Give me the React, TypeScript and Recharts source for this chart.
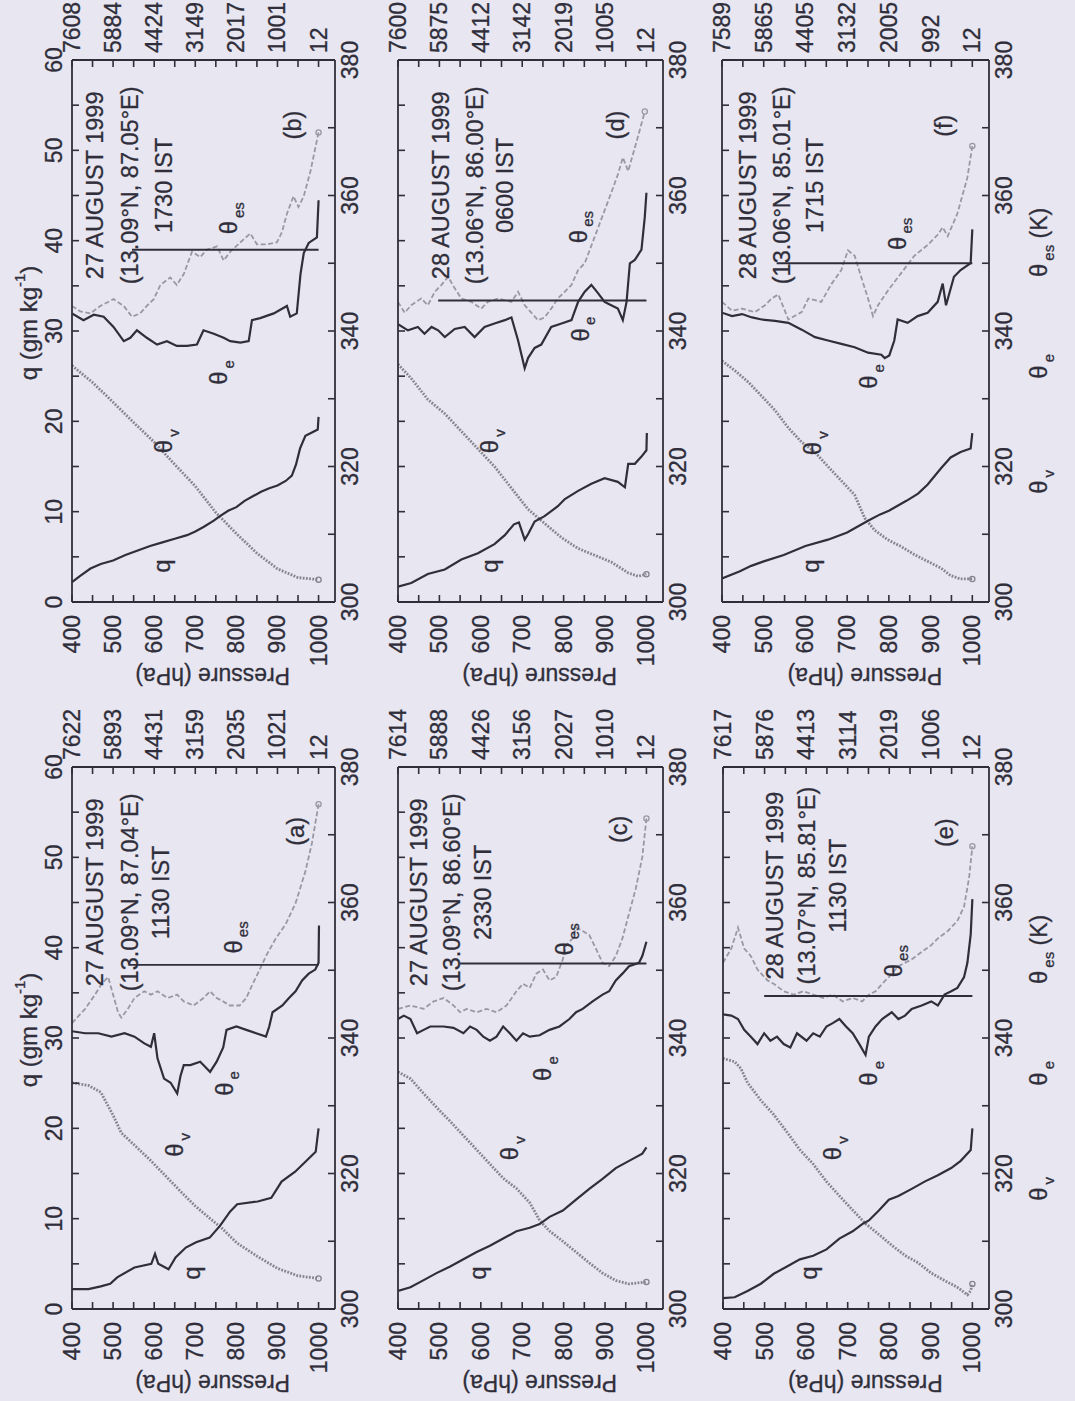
import React from 'react';
import { LineChart, Line, XAxis, YAxis } from 'recharts';

type Pair = [number, number];

const INK = '#2f2e3a';
const GREY_V = '#85838f';
const GREY_S = '#9a98a5';
const BG = '#e8e6f1';
const FONT = '"Liberation Sans", Arial, Helvetica, sans-serif';

// axis ticks
const P_TICKS = [400, 450, 500, 550, 600, 650, 700, 750, 800, 850, 900, 950, 1000];
const Q_TICKS = [0, 5, 10, 15, 20, 25, 30, 35, 40, 45, 50, 55, 60];
const T_TICKS = [300, 310, 320, 330, 340, 350, 360, 370, 380];

// heights (m) printed on the top axis at 400..1000 hPa
const hA = ['7622', '5893', '4431', '3159', '2035', '1021', '12'];
const hB = ['7608', '5884', '4424', '3149', '2017', '1001', '12'];
const hC = ['7614', '5888', '4426', '3156', '2027', '1010', '12'];
const hD = ['7600', '5875', '4412', '3142', '2019', '1005', '12'];
const hE = ['7617', '5876', '4413', '3114', '2019', '1006', '12'];
const hF = ['7589', '5865', '4405', '3132', '2005', '992', '12'];

// ---- (a) 27 Aug 1130 IST ----
const qA: Pair[] = [[400, 2.2], [440, 2.2], [470, 2.5], [493, 2.8], [510, 3.5], [552, 4.6], [593, 5.0], [602, 6.1], [610, 5.0], [635, 4.4], [652, 5.7], [677, 6.8], [702, 7.4], [735, 7.9], [760, 9.2], [785, 10.8], [802, 11.6], [852, 11.9], [885, 12.3], [910, 14.1], [943, 15.2], [968, 16.3], [993, 17.4], [1000, 20.0]];
const tvA: Pair[] = [[400, 333.4], [440, 333.0], [470, 332.0], [500, 328.6], [520, 326.0], [550, 324.3], [590, 322.0], [630, 319.5], [670, 317.0], [700, 315.2], [735, 313.4], [765, 311.9], [800, 309.8], [850, 307.8], [900, 306.0], [950, 304.9], [1000, 304.5]];
const teA: Pair[] = [[400, 341.0], [432, 340.7], [464, 340.7], [496, 340.2], [528, 340.7], [552, 340.2], [576, 339.2], [592, 338.7], [600, 340.7], [608, 337.0], [624, 334.0], [640, 333.4], [656, 331.8], [664, 334.4], [672, 336.0], [688, 336.0], [712, 336.5], [728, 335.5], [736, 335.0], [752, 336.5], [768, 338.6], [776, 341.2], [800, 341.7], [824, 341.2], [848, 340.7], [872, 340.2], [880, 341.7], [888, 343.8], [912, 344.8], [928, 345.9], [944, 346.9], [960, 348.5], [976, 349.5], [992, 350.1], [1000, 351.1], [1001, 356.6]];
const tesA: Pair[] = [[400, 342.2], [432, 344.3], [456, 346.4], [472, 348.0], [488, 349.0], [500, 346.4], [512, 343.8], [520, 343.0], [536, 344.3], [552, 345.9], [576, 346.9], [592, 346.4], [608, 346.9], [632, 345.9], [656, 346.4], [672, 345.4], [696, 344.8], [720, 345.9], [736, 346.9], [752, 345.9], [768, 345.4], [784, 344.8], [808, 344.8], [824, 345.9], [840, 348.0], [856, 350.0], [872, 352.1], [896, 354.7], [920, 356.8], [944, 359.9], [968, 364.6], [984, 368.8], [1000, 374.5]];
const segA: Pair[] = [[540, 350.8], [1000, 350.8]];

// ---- (b) 27 Aug 1730 IST ----
const qB: Pair[] = [[400, 2.2], [420, 2.9], [445, 3.7], [470, 4.2], [500, 4.6], [530, 5.2], [560, 5.7], [590, 6.2], [620, 6.6], [650, 7.0], [680, 7.4], [700, 7.8], [720, 8.3], [745, 9.0], [760, 9.5], [780, 10.1], [800, 10.5], [820, 11.2], [840, 11.7], [860, 12.2], [880, 12.6], [900, 12.9], [920, 13.4], [935, 14.0], [945, 15.2], [955, 17.0], [968, 18.4], [985, 18.8], [998, 19.1], [1000, 20.5]];
const tvB: Pair[] = [[400, 334.9], [450, 332.4], [500, 329.5], [550, 326.5], [600, 323.6], [650, 320.3], [700, 317.1], [750, 313.2], [800, 310.1], [850, 307.2], [900, 304.9], [950, 303.6], [1000, 303.3]];
const teB: Pair[] = [[400, 342.6], [428, 341.6], [453, 342.4], [477, 342.1], [501, 340.6], [526, 338.5], [542, 339.0], [558, 340.1], [582, 339.0], [607, 338.0], [631, 338.5], [655, 337.8], [680, 337.8], [704, 338.0], [720, 340.1], [745, 339.6], [769, 339.0], [785, 338.5], [810, 338.3], [830, 338.5], [838, 341.6], [858, 341.9], [891, 342.6], [923, 343.7], [931, 342.1], [947, 342.6], [956, 348.4], [964, 351.5], [976, 353.0], [996, 353.8], [1000, 359.3]];
const tesB: Pair[] = [[400, 343.7], [420, 342.9], [445, 342.6], [469, 343.7], [501, 344.7], [526, 343.7], [546, 342.1], [566, 342.6], [582, 343.7], [599, 344.7], [615, 346.8], [639, 347.9], [655, 346.8], [672, 348.4], [692, 351.7], [712, 350.9], [728, 352.0], [753, 352.5], [769, 350.4], [785, 351.7], [810, 353.1], [834, 354.4], [850, 352.8], [874, 352.8], [899, 353.1], [911, 354.6], [923, 357.3], [939, 359.9], [951, 358.3], [964, 359.9], [980, 363.5], [1000, 369.3]];
const segB: Pair[] = [[546, 352.0], [1000, 352.0]];

// ---- (c) 27 Aug 2330 IST ----
const qC: Pair[] = [[400, 2.0], [430, 2.4], [462, 3.2], [494, 4.0], [526, 4.7], [558, 5.5], [590, 6.3], [622, 7.0], [654, 7.8], [686, 8.6], [718, 9.0], [742, 9.4], [766, 10.2], [798, 10.9], [830, 12.1], [862, 13.3], [894, 14.4], [926, 15.6], [958, 16.4], [990, 17.2], [1000, 17.9]];
const tvC: Pair[] = [[400, 335.0], [430, 334.0], [462, 331.8], [494, 329.7], [526, 327.7], [558, 325.6], [590, 323.5], [622, 321.4], [654, 319.3], [686, 317.8], [718, 315.7], [742, 313.1], [766, 311.5], [798, 310.0], [830, 308.4], [862, 306.8], [894, 305.3], [926, 304.2], [958, 303.7], [1000, 304.0]];
const teC: Pair[] = [[400, 342.8], [414, 343.3], [430, 342.8], [446, 340.7], [462, 341.2], [478, 341.7], [510, 341.7], [534, 341.5], [558, 340.7], [574, 341.7], [590, 341.2], [606, 340.2], [622, 339.6], [638, 340.2], [654, 341.7], [670, 340.7], [686, 339.6], [702, 340.7], [718, 340.2], [742, 340.4], [766, 341.2], [790, 341.7], [814, 342.8], [830, 343.8], [846, 344.3], [870, 345.4], [894, 346.4], [910, 346.9], [926, 348.5], [942, 349.5], [958, 350.6], [982, 351.1], [990, 352.1], [1000, 354.2]];
const tesC: Pair[] = [[400, 344.3], [430, 344.8], [462, 344.3], [486, 345.4], [510, 345.9], [534, 344.8], [550, 343.8], [566, 344.3], [590, 343.8], [614, 344.3], [638, 343.8], [662, 344.8], [686, 346.9], [702, 348.0], [718, 347.4], [734, 349.5], [750, 350.1], [766, 348.5], [782, 349.0], [798, 351.6], [806, 353.7], [822, 354.7], [830, 356.3], [846, 355.8], [862, 355.2], [878, 353.2], [894, 351.1], [910, 350.6], [926, 352.1], [942, 354.7], [958, 358.4], [974, 362.0], [990, 366.7], [1000, 372.4]];
const segC: Pair[] = [[550, 351.0], [1000, 351.0]];

// ---- (d) 28 Aug 0600 IST ----
const qD: Pair[] = [[400, 1.7], [432, 2.1], [472, 3.1], [513, 3.6], [553, 4.7], [593, 5.4], [633, 6.4], [658, 7.4], [680, 8.6], [692, 8.8], [706, 6.9], [714, 7.5], [730, 8.9], [754, 9.5], [786, 10.6], [803, 11.4], [835, 12.3], [867, 13.1], [899, 13.7], [931, 13.3], [948, 12.7], [956, 15.3], [972, 15.3], [988, 16.1], [1000, 16.8], [1001, 18.7]];
const tvD: Pair[] = [[400, 335.1], [432, 333.0], [472, 329.9], [513, 327.8], [553, 325.2], [593, 322.6], [633, 320.0], [674, 316.8], [714, 313.7], [754, 311.6], [795, 309.5], [835, 307.9], [875, 306.9], [915, 305.9], [956, 304.3], [980, 303.8], [1000, 304.1]];
const teD: Pair[] = [[400, 341.0], [424, 340.1], [448, 340.6], [464, 339.6], [481, 340.6], [497, 340.1], [513, 339.1], [537, 340.3], [561, 340.6], [585, 339.1], [609, 340.6], [633, 341.1], [658, 341.6], [674, 342.0], [690, 338.6], [706, 334.5], [714, 336.0], [730, 337.5], [746, 338.0], [770, 340.6], [795, 341.1], [819, 341.6], [835, 344.3], [851, 345.8], [867, 346.8], [883, 345.6], [899, 344.3], [915, 343.8], [931, 343.3], [943, 341.6], [952, 344.3], [960, 350.0], [972, 350.5], [988, 352.0], [996, 356.8], [1000, 360.4]];
const tesD: Pair[] = [[400, 344.3], [416, 342.7], [432, 343.8], [456, 344.8], [472, 343.8], [489, 345.8], [505, 346.8], [521, 348.0], [537, 346.3], [553, 344.8], [577, 344.3], [601, 343.3], [617, 344.3], [642, 344.8], [674, 344.3], [690, 345.8], [706, 343.8], [722, 342.7], [738, 341.6], [754, 342.0], [770, 343.3], [786, 344.8], [803, 345.8], [819, 346.8], [835, 349.0], [851, 350.0], [867, 352.6], [883, 355.2], [899, 357.8], [915, 360.4], [931, 363.1], [943, 365.6], [956, 363.6], [968, 366.2], [980, 368.8], [996, 372.4]];
const segD: Pair[] = [[497, 344.5], [1000, 344.5]];

// ---- (e) 28 Aug 1130 IST ----
const qE: Pair[] = [[400, 1.2], [428, 1.3], [459, 2.0], [491, 2.8], [522, 3.9], [554, 4.7], [585, 5.5], [617, 5.9], [649, 6.6], [680, 7.8], [712, 8.6], [735, 9.4], [751, 9.8], [775, 10.9], [799, 12.1], [822, 12.5], [854, 13.3], [885, 14.1], [917, 14.8], [949, 15.6], [972, 16.4], [996, 17.6], [1000, 20.0]];
const tvE: Pair[] = [[400, 337.0], [428, 336.5], [443, 335.5], [459, 333.4], [491, 330.8], [522, 328.7], [554, 326.1], [585, 323.5], [617, 321.4], [649, 318.8], [680, 316.7], [712, 314.6], [743, 312.6], [775, 311.0], [806, 309.4], [838, 307.9], [870, 306.8], [901, 305.3], [933, 304.2], [964, 303.2], [988, 302.1], [996, 302.7], [1000, 303.7]];
const teE: Pair[] = [[400, 343.5], [420, 343.3], [436, 342.8], [451, 341.2], [467, 340.2], [483, 339.1], [499, 340.7], [514, 339.6], [530, 340.2], [546, 339.1], [562, 338.6], [578, 340.7], [601, 339.6], [617, 340.7], [633, 340.2], [649, 341.7], [664, 342.2], [680, 342.8], [696, 341.7], [712, 340.7], [728, 339.1], [743, 337.5], [751, 340.2], [767, 341.7], [783, 342.8], [806, 343.8], [822, 342.8], [838, 343.3], [854, 344.3], [878, 344.8], [901, 345.4], [917, 344.8], [933, 346.4], [949, 346.9], [964, 347.4], [980, 349.0], [988, 351.1], [996, 355.3], [1000, 360.5]];
const tesE: Pair[] = [[400, 351.1], [420, 353.2], [436, 356.3], [451, 353.2], [467, 352.1], [483, 350.1], [507, 348.5], [522, 348.0], [546, 346.9], [570, 346.4], [593, 346.9], [617, 346.4], [641, 345.9], [664, 346.4], [688, 345.4], [712, 345.9], [735, 345.4], [751, 346.4], [767, 346.9], [783, 348.0], [799, 349.0], [822, 350.6], [854, 351.6], [878, 352.7], [901, 353.7], [917, 354.7], [941, 355.8], [964, 357.3], [980, 359.4], [992, 363.6], [1000, 368.3]];
const segE: Pair[] = [[499, 346.2], [1000, 346.2]];

// ---- (f) 28 Aug 1715 IST ----
const qF: Pair[] = [[400, 2.6], [443, 3.4], [470, 4.0], [500, 4.5], [548, 5.2], [600, 6.2], [654, 6.9], [700, 7.7], [750, 9.0], [779, 9.7], [800, 10.1], [842, 11.2], [870, 12.0], [893, 13.0], [925, 14.8], [948, 16.0], [972, 16.6], [996, 17.0], [1000, 18.7]];
const tvF: Pair[] = [[400, 335.6], [432, 334.1], [464, 332.4], [495, 330.4], [527, 328.3], [559, 325.7], [591, 323.6], [623, 322.1], [654, 320.0], [686, 317.9], [718, 315.8], [742, 312.4], [766, 310.6], [797, 309.2], [829, 308.2], [861, 307.0], [893, 306.0], [925, 305.0], [948, 303.9], [972, 303.4], [1000, 303.4]];
const teF: Pair[] = [[400, 342.7], [424, 342.2], [448, 342.5], [472, 342.0], [495, 341.7], [527, 341.5], [559, 341.2], [591, 340.2], [623, 339.1], [654, 338.6], [686, 338.1], [718, 337.6], [750, 336.8], [782, 336.5], [790, 336.0], [801, 336.4], [813, 338.6], [821, 341.7], [845, 341.2], [869, 342.2], [893, 342.7], [917, 344.3], [929, 347.0], [937, 343.8], [956, 348.0], [972, 349.0], [996, 350.0], [1000, 355.0]];
const tesF: Pair[] = [[400, 344.3], [424, 343.0], [448, 343.3], [479, 342.8], [503, 343.8], [519, 344.8], [535, 345.4], [559, 341.7], [591, 342.8], [607, 344.8], [638, 344.3], [662, 346.9], [686, 349.0], [702, 351.9], [718, 351.1], [734, 347.9], [750, 344.8], [762, 342.2], [774, 343.8], [797, 345.9], [829, 348.5], [861, 351.1], [893, 352.7], [917, 354.2], [929, 355.3], [941, 354.0], [964, 357.3], [988, 362.6], [1000, 367.3]];
const segF: Pair[] = [[531, 350.0], [1000, 350.0]];

const PLOT_H = 542;
const PAD_L = 60;
const PAD_R = 72;
const PAD_T = 60;
const PAD_B = 95;

type PanelCfg = {
  key: string;
  left: number;
  top: number;
  width: number;
  col: number;
  heights: string[];
  q: Pair[];
  tv: Pair[];
  te: Pair[];
  tes: Pair[];
  seg: Pair[];
  lines: string[];
  letter: string;
  textP: number[];
  textT: number;
  labEs: Pair;
  labE: Pair;
  labV: Pair;
  labQ: Pair;
  labL: Pair;
};

const PANELS: PanelCfg[] = [
  {
    key: 'b', left: 72, top: 60, width: 263, col: 0, heights: hB, q: qB, tv: tvB, te: teB, tes: tesB, seg: segB,
    lines: ['27 AUGUST 1999', '(13.09°N, 87.05°E)', '1730 IST'], letter: '(b)',
    textP: [457, 542, 623], textT: 361.5, labEs: [781, 355.3], labE: [757, 333.1], labV: [623, 323], labQ: [618, 305.3], labL: [939, 370.4],
  },
  {
    key: 'd', left: 398, top: 60, width: 265, col: 1, heights: hD, q: qD, tv: tvD, te: teD, tes: tesD, seg: segD,
    lines: ['28 AUGUST 1999', '(13.06°N, 86.00°E)', '0600 IST'], letter: '(d)',
    textP: [505, 585, 658], textT: 361.5, labEs: [835, 354], labE: [840, 339.5], labV: [621, 323], labQ: [620, 305.3], labL: [927, 370.4],
  },
  {
    key: 'f', left: 722, top: 60, width: 267, col: 2, heights: hF, q: qF, tv: tvF, te: teF, tes: tesF, seg: segF,
    lines: ['28 AUGUST 1999', '(13.06°N, 85.01°E)', '1715 IST'], letter: '(f)',
    textP: [462, 545, 624], textT: 361.5, labEs: [820, 353], labE: [752, 332.5], labV: [617, 322.7], labQ: [612, 305.3], labL: [933, 370.3],
  },
  {
    key: 'a', left: 72, top: 767, width: 263, col: 0, heights: hA, q: qA, tv: tvA, te: teA, tes: tesA, seg: segA,
    lines: ['27 AUGUST 1999', '(13.09°N, 87.04°E)', '1130 IST'], letter: '(a)',
    textP: [456, 540, 616], textT: 361.5, labEs: [792, 353.5], labE: [770, 332.5], labV: [650, 323.5], labQ: [690, 305.3], labL: [944, 370.5],
  },
  {
    key: 'c', left: 398, top: 767, width: 265, col: 1, heights: hC, q: qC, tv: tvC, te: teC, tes: tesC, seg: segC,
    lines: ['27 AUGUST 1999', '(13.09°N, 86.60°E)', '2330 IST'], letter: '(c)',
    textP: [450, 530, 606], textT: 361.5, labEs: [802, 353.2], labE: [750, 334.7], labV: [670, 323], labQ: [592, 305.3], labL: [934, 370.8],
  },
  {
    key: 'e', left: 723, top: 767, width: 266, col: 2, heights: hE, q: qE, tv: tvE, te: teE, tes: tesE, seg: segE,
    lines: ['28 AUGUST 1999', '(13.07°N, 85.81°E)', '1130 IST'], letter: '(e)',
    textP: [526, 601, 676], textT: 362.5, labEs: [810, 350], labE: [751, 334], labV: [664, 323], labQ: [605, 305.3], labL: [933, 370.3],
  },
];

const pts = (a: Pair[]) => a.map(([p, v]) => ({ p, v }));

// the grey profiles end in a small open circle at the surface
const endDot = (count: number, color: string) => (props: any) => {
  const { cx, cy, index } = props;
  if (index !== count - 1) return <g key={`d${index}`} />;
  return <circle key={`d${index}`} cx={cx} cy={cy} r={2.6} fill="none" stroke={color} strokeWidth={1.3} />;
};

// scanned print looks a little heavier than a plain regular face
const TEXT_STROKE = { stroke: INK, strokeWidth: 0.3 };

function RotText({ x, y, size = 23, anchor = 'middle', angle = -90, children }: any) {
  return (
    <text
      x={x}
      y={y}
      transform={`rotate(${angle} ${x} ${y})`}
      textAnchor={anchor}
      dominantBaseline="central"
      fontSize={size}
      fill={INK}
      fontFamily={FONT}
      {...TEXT_STROKE}
    >
      {children}
    </text>
  );
}

function ThetaLabel({ x, y, sub, tail }: any) {
  return (
    <text
      x={x}
      y={y}
      transform={`rotate(-90 ${x} ${y})`}
      textAnchor="start"
      dominantBaseline="central"
      fontSize={24}
      fill={INK}
      fontFamily={FONT}
      {...TEXT_STROKE}
    >
      θ
      <tspan dx={3} dy={9} fontSize={15}>
        {sub}
      </tspan>
      {tail ? <tspan dy={-9} fontSize={23}>{tail}</tspan> : null}
    </text>
  );
}

function Panel({ cfg }: { cfg: PanelCfg }) {
  const W = cfg.width;
  const cw = W + PAD_L + PAD_R;
  const ch = PLOT_H + PAD_T + PAD_B;
  const px = (p: number) => PAD_L + ((p - 400) / 640) * W;
  const py = (t: number) => PAD_T + ((380 - t) / 80) * PLOT_H;
  const axisLine = { stroke: INK, strokeWidth: 1.8 };

  const bottomTick = (props: any) => {
    const { x, y, payload } = props;
    const v = payload.value;
    return (
      <g>
        <line x1={x} y1={y} x2={x} y2={y - 7} stroke={INK} strokeWidth={1.6} />
        {v % 100 === 0 ? <RotText x={x} y={y + 13} anchor="end">{v}</RotText> : null}
      </g>
    );
  };
  const topTick = (props: any) => {
    const { x, y, payload } = props;
    const v = payload.value;
    return (
      <g>
        <line x1={x} y1={y} x2={x} y2={y + 7} stroke={INK} strokeWidth={1.6} />
        {v % 100 === 0 ? (
          <RotText x={x} y={y - 7} anchor="start">{cfg.heights[(v - 400) / 100]}</RotText>
        ) : null}
      </g>
    );
  };
  const leftTick = (props: any) => {
    const { x, y, payload } = props;
    const v = payload.value;
    return (
      <g>
        <line x1={x} y1={y} x2={x + 7} y2={y} stroke={INK} strokeWidth={1.6} />
        {cfg.col === 0 && v % 10 === 0 ? <RotText x={x - 18} y={y}>{v}</RotText> : null}
      </g>
    );
  };
  const rightTick = (props: any) => {
    const { x, y, payload } = props;
    const v = payload.value;
    return (
      <g>
        <line x1={x} y1={y} x2={x - 7} y2={y} stroke={INK} strokeWidth={1.6} />
        {v % 20 === 0 ? <RotText x={x + 15} y={y}>{v}</RotText> : null}
      </g>
    );
  };

  const R = PAD_L + W;
  const B = PAD_T + PLOT_H;

  return (
    <>
      <div style={{ position: 'absolute', left: cfg.left - PAD_L, top: cfg.top - PAD_T }}>
        <LineChart width={cw} height={ch} margin={{ top: 0, right: 0, bottom: 0, left: 0 }}>
          <XAxis
            xAxisId="p"
            type="number"
            dataKey="p"
            orientation="bottom"
            domain={[400, 1040]}
            allowDataOverflow
            ticks={P_TICKS}
            interval={0}
            height={PAD_B}
            tickSize={0}
            tickMargin={0}
            tickLine={false}
            axisLine={axisLine}
            tick={bottomTick}
          />
          <XAxis
            xAxisId="h"
            type="number"
            dataKey="p"
            orientation="top"
            domain={[400, 1040]}
            allowDataOverflow
            ticks={P_TICKS}
            interval={0}
            height={PAD_T}
            tickSize={0}
            tickMargin={0}
            tickLine={false}
            axisLine={axisLine}
            tick={topTick}
          />
          <YAxis
            yAxisId="q"
            type="number"
            orientation="left"
            domain={[0, 60]}
            allowDataOverflow
            ticks={Q_TICKS}
            interval={0}
            width={PAD_L}
            tickSize={0}
            tickMargin={0}
            tickLine={false}
            axisLine={axisLine}
            tick={leftTick}
          />
          <YAxis
            yAxisId="t"
            type="number"
            orientation="right"
            domain={[300, 380]}
            allowDataOverflow
            ticks={T_TICKS}
            interval={0}
            width={PAD_R}
            tickSize={0}
            tickMargin={0}
            tickLine={false}
            axisLine={axisLine}
            tick={rightTick}
          />
          <Line xAxisId="p" yAxisId="t" data={pts(cfg.tes)} dataKey="v" type="linear" stroke={GREY_S} strokeWidth={1.8} strokeDasharray="5 2.5" dot={endDot(cfg.tes.length, GREY_S)} isAnimationActive={false} />
          <Line xAxisId="p" yAxisId="t" data={pts(cfg.tv)} dataKey="v" type="linear" stroke={GREY_V} strokeWidth={2.8} strokeDasharray="1.8 1.4" dot={endDot(cfg.tv.length, GREY_V)} isAnimationActive={false} />
          <Line xAxisId="p" yAxisId="t" data={pts(cfg.te)} dataKey="v" type="linear" stroke={INK} strokeWidth={2.2} dot={false} isAnimationActive={false} />
          <Line xAxisId="p" yAxisId="q" data={pts(cfg.q)} dataKey="v" type="linear" stroke={INK} strokeWidth={2.2} dot={false} isAnimationActive={false} />
          <Line xAxisId="h" yAxisId="t" data={pts(cfg.seg)} dataKey="v" type="linear" stroke={INK} strokeWidth={1.9} dot={false} isAnimationActive={false} />
        </LineChart>
      </div>
      <svg
        width={cw}
        height={ch}
        style={{ position: 'absolute', left: cfg.left - PAD_L, top: cfg.top - PAD_T, overflow: 'visible', pointerEvents: 'none' }}
      >
        {cfg.lines.map((s, i) => (
          <RotText key={s} x={px(cfg.textP[i])} y={py(cfg.textT)} size={23.5}>
            {s}
          </RotText>
        ))}
        <RotText x={px(cfg.labL[0])} y={py(cfg.labL[1])} size={23.5}>{cfg.letter}</RotText>
        <ThetaLabel x={px(cfg.labEs[0])} y={py(cfg.labEs[1]) + 7} sub="es" />
        <ThetaLabel x={px(cfg.labE[0])} y={py(cfg.labE[1]) + 7} sub="e" />
        <ThetaLabel x={px(cfg.labV[0])} y={py(cfg.labV[1]) + 7} sub="v" />
        <RotText x={px(cfg.labQ[0])} y={py(cfg.labQ[1])} size={24}>q</RotText>
        <RotText x={PAD_L + W * 0.535} y={B + 74} angle={180} size={23}>
          Pressure (hPa)
        </RotText>
        {cfg.col === 0 ? (
          <text
            x={PAD_L - 44}
            y={PAD_T + PLOT_H / 2 - 8}
            transform={`rotate(-90 ${PAD_L - 44} ${PAD_T + PLOT_H / 2 - 8})`}
            textAnchor="middle"
            dominantBaseline="central"
            fontSize={24}
            fill={INK}
            fontFamily={FONT}
            {...TEXT_STROKE}
          >
            q (gm kg
            <tspan dy={-9} fontSize={15}>-1</tspan>
            <tspan dy={9}>)</tspan>
          </text>
        ) : null}
        {cfg.col === 2 ? (
          <>
            <ThetaLabel x={R + 50} y={py(317) + 7} sub="v" />
            <ThetaLabel x={R + 50} y={py(334) + 7} sub="e" />
            <ThetaLabel x={R + 50} y={py(349) + 7} sub="es" tail=" (K)" />
          </>
        ) : null}
      </svg>
    </>
  );
}

export default function App() {
  return (
    <div
      style={{
        position: 'absolute',
        left: 0,
        top: 0,
        width: 1075,
        height: 1401,
        background: BG,
        overflow: 'hidden',
        fontFamily: FONT,
      }}
    >
      {PANELS.map((cfg) => (
        <Panel key={cfg.key} cfg={cfg} />
      ))}
    </div>
  );
}
